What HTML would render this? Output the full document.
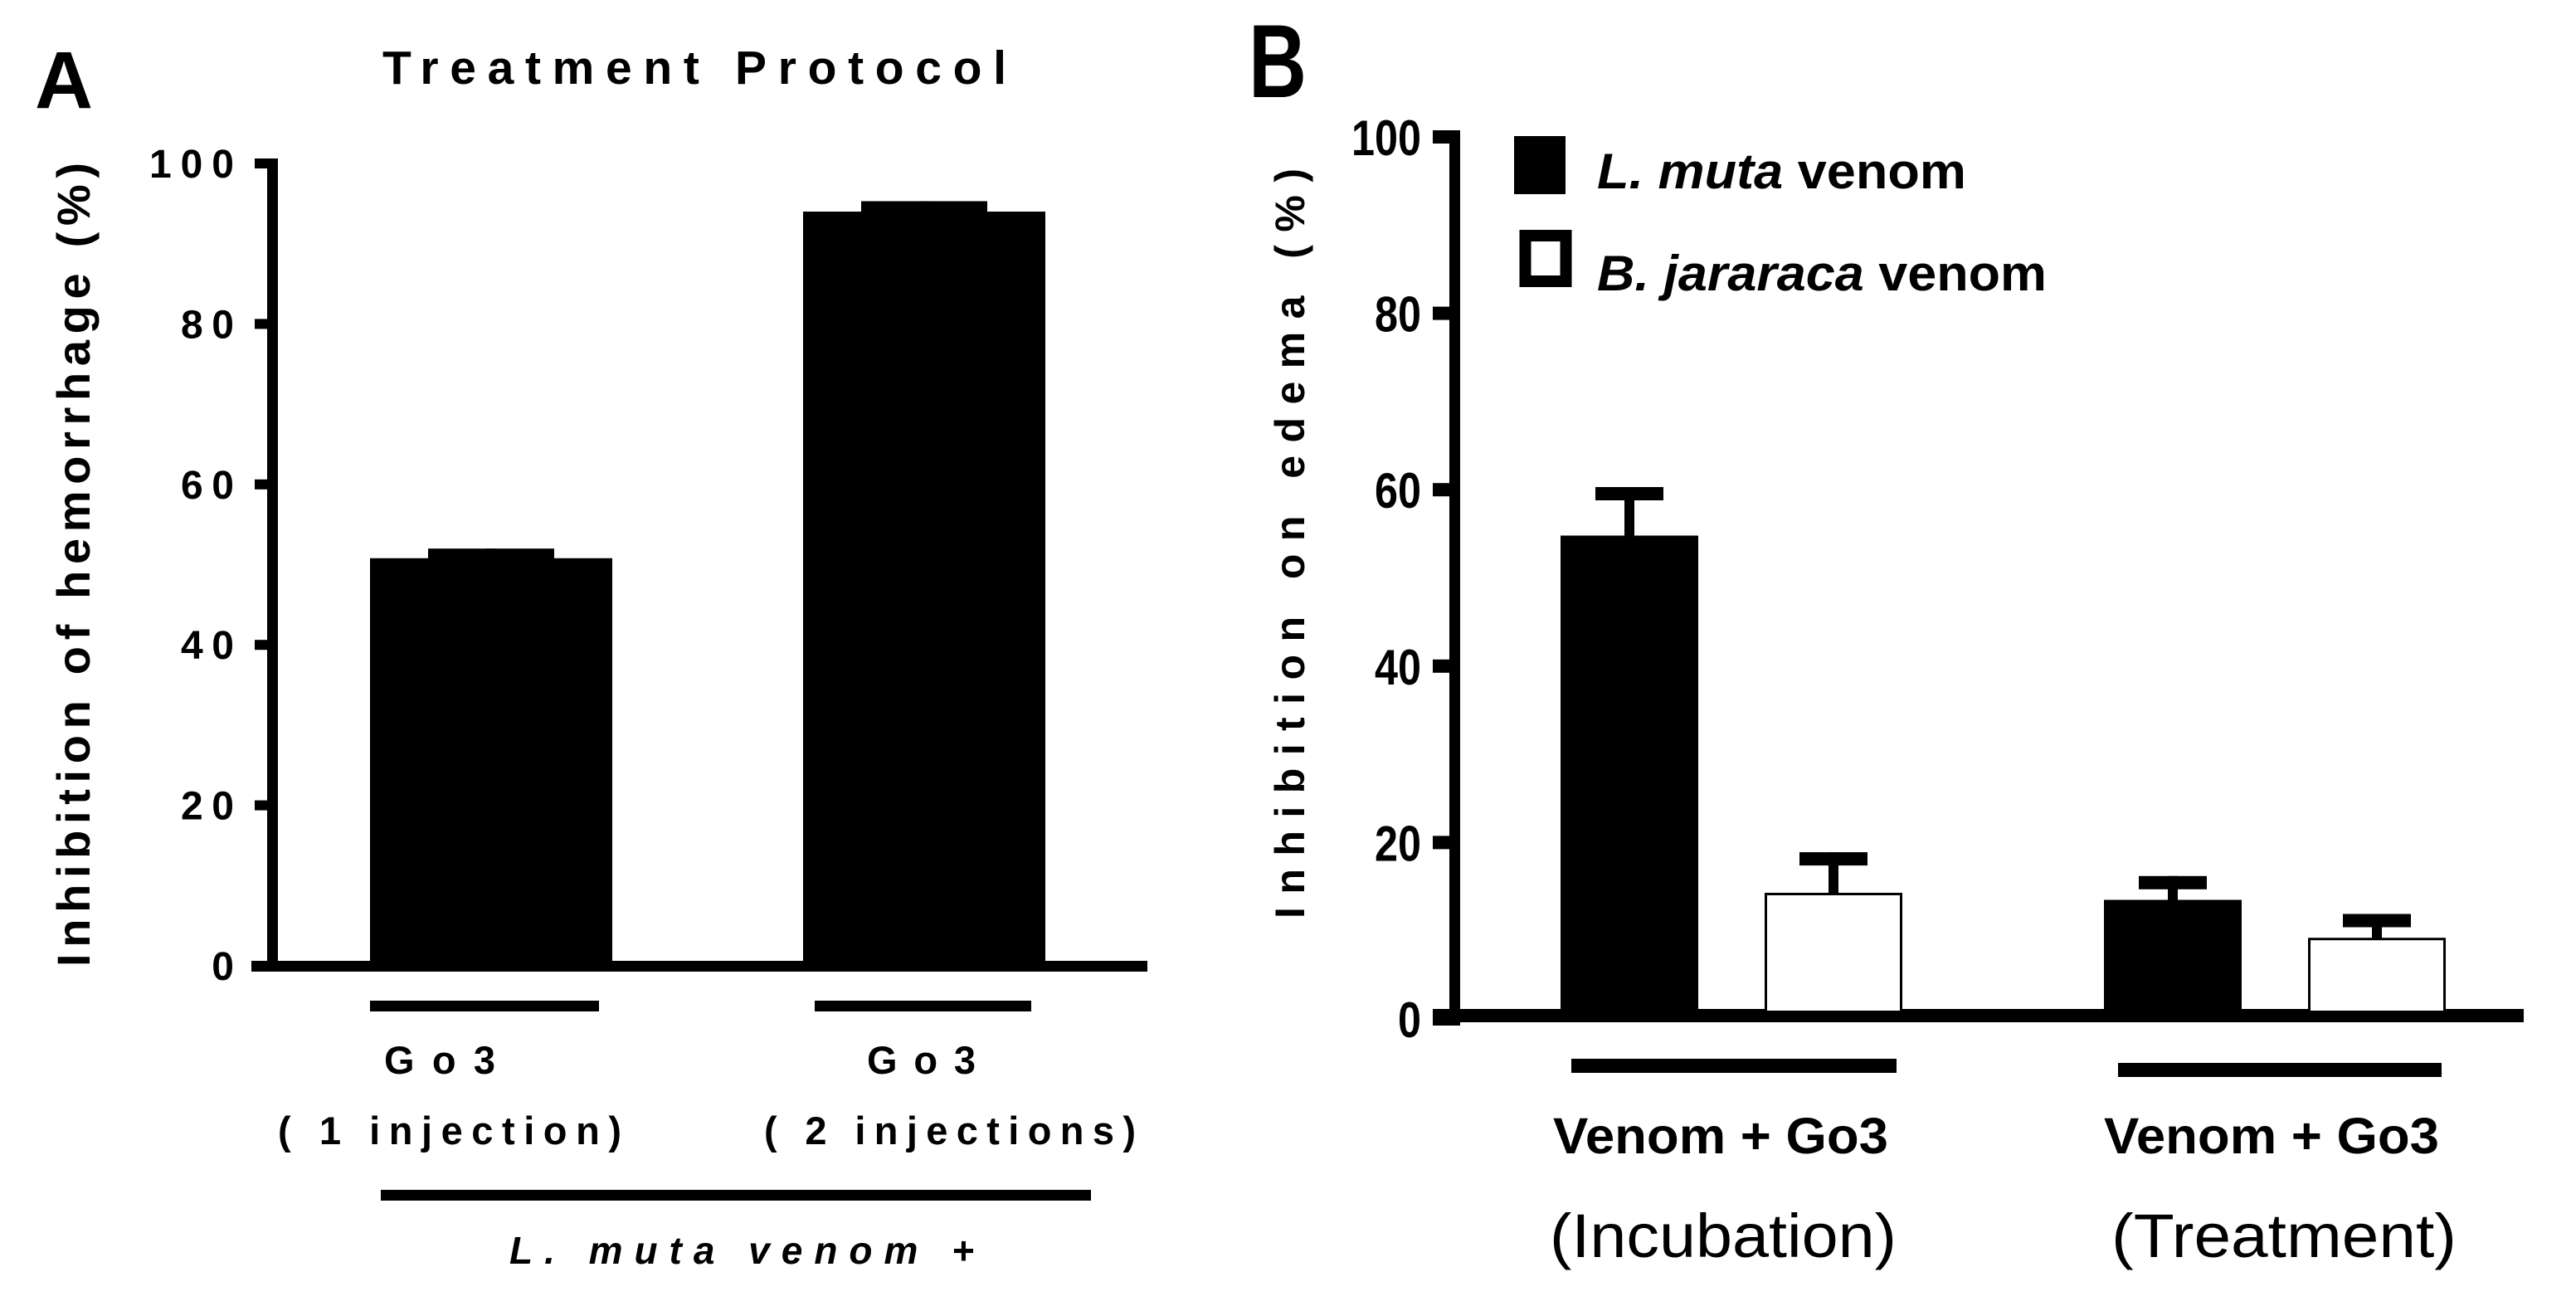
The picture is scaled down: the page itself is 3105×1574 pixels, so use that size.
<!DOCTYPE html>
<html><head><meta charset="utf-8"><style>
html,body{margin:0;padding:0;background:#fff;}
svg{display:block;}
text{font-family:"Liberation Sans",Arial,sans-serif;fill:#000;}
</style></head><body>
<svg id="fig" width="3105" height="1574" viewBox="0 0 3105 1574" xmlns="http://www.w3.org/2000/svg">
<rect width="3105" height="1574" fill="#fff"/>
<g id="panelA">
<text x="42" y="130" font-size="97" font-weight="bold">A</text>
<text x="461" y="101" font-size="57" font-weight="bold" textLength="752" lengthAdjust="spacing">Treatment Protocol</text>
<text transform="translate(108,1165) rotate(-90)" x="0" y="0" font-size="56" font-weight="bold" textLength="969" lengthAdjust="spacing">Inhibition of hemorrhage (%)</text>
<rect x="322" y="191" width="13" height="980" fill="#000"/>
<rect x="303" y="1158" width="1080" height="13" fill="#000"/>
<rect x="446" y="1206" width="276" height="13" fill="#000"/>
<rect x="982" y="1206" width="261" height="13" fill="#000"/>
<text x="463" y="1294" font-size="47" font-weight="bold" textLength="134" lengthAdjust="spacing">Go3</text>
<text x="335" y="1379" font-size="47" font-weight="bold" textLength="414" lengthAdjust="spacing">( 1 injection)</text>
<text x="1045" y="1294" font-size="47" font-weight="bold" textLength="131" lengthAdjust="spacing">Go3</text>
<text x="921" y="1379" font-size="47" font-weight="bold" textLength="448" lengthAdjust="spacing">( 2 injections)</text>
<rect x="459" y="1434" width="856" height="13" fill="#000"/>
<text x="614" y="1523" font-size="46" font-weight="bold" font-style="italic" textLength="560" lengthAdjust="spacing">L. muta  venom +</text>
</g>
<g id="panelB">
<text x="1505" y="117" font-size="125" font-weight="bold" textLength="70" lengthAdjust="spacingAndGlyphs">B</text>
<text transform="translate(1572,1107) rotate(-90)" x="0" y="0" font-size="50" font-weight="bold" textLength="904" lengthAdjust="spacing">Inhibition on edema  (%)</text>
<rect x="1747" y="157" width="13" height="1075" fill="#000"/>
<rect x="1727" y="1216" width="1315" height="16" fill="#000"/>
<rect x="1825" y="164" width="62" height="70" fill="#000"/>
<text x="1925" y="227" font-size="60" font-weight="bold" textLength="445" lengthAdjust="spacingAndGlyphs"><tspan font-style="italic">L. muta</tspan> venom</text>
<rect x="1838.5" y="284" width="49" height="55" fill="#fff" stroke="#000" stroke-width="14"/>
<text x="1925" y="350" font-size="60" font-weight="bold" textLength="542" lengthAdjust="spacingAndGlyphs"><tspan font-style="italic">B. jararaca</tspan> venom</text>
<rect x="1894" y="1276" width="392" height="17" fill="#000"/>
<rect x="2553" y="1281" width="390" height="17" fill="#000"/>
<text x="1872" y="1390" font-size="61" font-weight="bold" textLength="404" lengthAdjust="spacingAndGlyphs">Venom + Go3</text>
<text x="1868" y="1515" font-size="74" textLength="418" lengthAdjust="spacingAndGlyphs">(Incubation)</text>
<text x="2536" y="1390" font-size="61" font-weight="bold" textLength="404" lengthAdjust="spacingAndGlyphs">Venom + Go3</text>
<text x="2545" y="1515" font-size="74" textLength="416" lengthAdjust="spacingAndGlyphs">(Treatment)</text>
</g>
</svg>
<script>
// Panel A data
const aCategories = ["Go3 (1 injection)", "Go3 (2 injections)"];
const aValues = [50.8, 94.0];
const aErrors = [1.2, 1.3];
const aTicks = [0, 20, 40, 60, 80, 100];
const aTickLabels = ["0", "20", "40", "60", "80", "100"];
// Panel B data
const bCategories = ["Venom + Go3 (Incubation)", "Venom + Go3 (Treatment)"];
const bSeries = ["L. muta venom", "B. jararaca venom"];
const bLmuta = [54.8, 13.5];
const bLmutaErr = [5.5, 2.7];
const bBjar = [14.3, 9.2];
const bBjarErr = [4.6, 2.7];
const bTicks = [0, 20, 40, 60, 80, 100];
const bTickLabels = ["0", "20", "40", "60", "80", "100"];

const NS = "http://www.w3.org/2000/svg";
const svg = document.getElementById("fig");
function mk(tag, attrs, parent) {
  const e = document.createElementNS(NS, tag);
  for (const k in attrs) e.setAttribute(k, attrs[k]);
  (parent || svg).appendChild(e);
  return e;
}
function yA(v) { return 1164 - v * 9.67; }
function xA(i) { return 592 + i * 522; }
function yB(v) { return 1228 - v * 10.63; }
function xB(g, s) { return 2087 + g * 655 + (s === 0 ? -123 : 123); }

const gA = document.getElementById("panelA");
const gB = document.getElementById("panelB");

aTicks.forEach((t, i) => {
  const tk = mk("rect", {x: 307, y: yA(t) - 6, width: 28, height: 12, fill: "#000"}, gA);
  
  
  const lab = aTickLabels[i];
  const tx = mk("text", {x: 282, y: yA(t) + 17, "font-size": 48, "font-weight": "bold", "text-anchor": "end"}, gA);
  if (lab.length > 1) { tx.setAttribute("textLength", lab.length === 3 ? 102 : 64); tx.setAttribute("lengthAdjust", "spacing"); }
  tx.textContent = lab;
  
  
});
aValues.forEach((v, i) => {
  const cx = xA(i);
  const bar = mk("rect", {x: cx - 146, y: yA(v), width: 292, height: 1164 - yA(v), fill: "#000"}, gA);
  
  
  const top = yA(v + aErrors[i]);
  const st = mk("rect", {x: cx - 6, y: top, width: 12, height: yA(v) - top + 2, fill: "#000"}, gA);
  
  
  const cap = mk("rect", {x: cx - 76, y: top, width: 152, height: 13, fill: "#000"}, gA);
  
  
});

bTicks.forEach((t, i) => {
  const tk = mk("rect", {x: 1727, y: yB(t) - 8, width: 33, height: 16, fill: "#000"}, gB);
  
  
  const lab = bTickLabels[i];
  const tx = mk("text", {x: 1713, y: yB(t) + 22, "font-size": 60, "font-weight": "bold", "text-anchor": "end"}, gB);
  tx.setAttribute("textLength", lab.length * 28);
  tx.setAttribute("lengthAdjust", "spacingAndGlyphs");
  tx.textContent = lab;
  
  
});
function drawB(vals, errs, s) {
  vals.forEach((v, g) => {
    const cx = xB(g, s);
    const top = yB(v + errs[g]);
    const st = mk("rect", {x: cx - 6, y: top, width: 12, height: yB(v) - top + 2, fill: "#000"}, gB);
    
    
    const cap = mk("rect", {x: cx - 41, y: top, width: 82, height: 16, fill: "#000"}, gB);
    
    
    let bar;
    if (s === 0) {
      bar = mk("rect", {x: cx - 83, y: yB(v), width: 166, height: 1218 - yB(v), fill: "#000"}, gB);
      
    } else {
      bar = mk("rect", {x: cx - 81.5, y: yB(v) + 1.5, width: 163, height: 1218 - yB(v), fill: "#fff", stroke: "#000", "stroke-width": 3}, gB);
      
    }
    
  });
}
drawB(bLmuta, bLmutaErr, 0);
drawB(bBjar, bBjarErr, 1);
</script>
</body></html>
